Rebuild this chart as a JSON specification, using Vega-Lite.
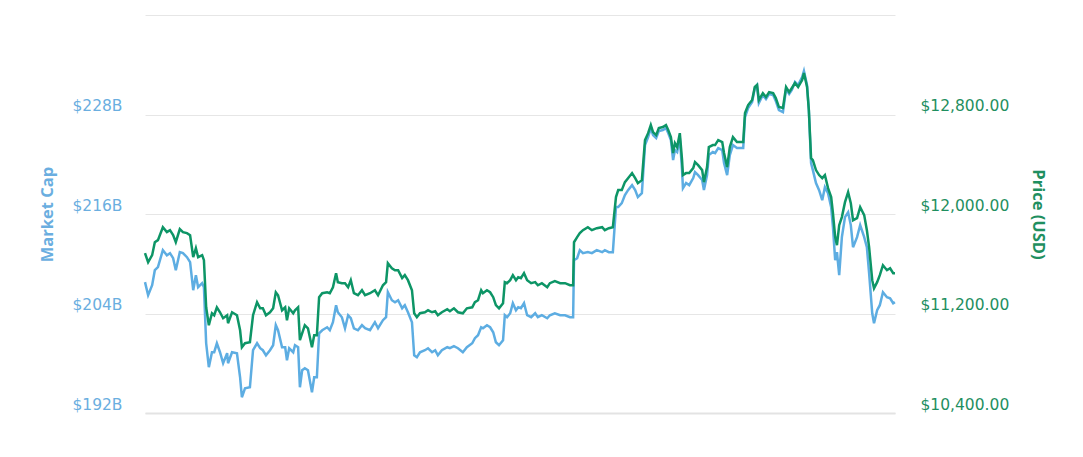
{
"$schema": "https://vega.github.io/schema/vega-lite/v6.json",
"width": 750,
"height": 398,
"autosize": {"type": "none"},
"padding": {"left": 145, "top": 15, "right": 188, "bottom": 44},
"config": {"view": {"stroke": null}, "font": "Open Sans"},
"data": {"values": [
{"h":0,"p":11685,"m":207.78},{"h":0.7,"p":11612,"m":206.21},{"h":1.6,"p":11669,"m":207.41},{"h":2.2,"p":11773,"m":209.22},{"h":2.9,"p":11790,"m":209.59},
{"h":4.0,"p":11894,"m":211.64},{"h":4.9,"p":11854,"m":211.03},{"h":5.6,"p":11870,"m":211.28},{"h":6.3,"p":11830,"m":210.67},{"h":6.9,"p":11773,"m":209.22},
{"h":7.8,"p":11878,"m":211.40},{"h":8.5,"p":11854,"m":211.28},{"h":9.4,"p":11846,"m":210.79},{"h":10.1,"p":11830,"m":210.19},{"h":10.8,"p":11653,"m":206.81},
{"h":11.4,"p":11725,"m":208.62},{"h":11.9,"p":11653,"m":207.17},{"h":12.8,"p":11669,"m":207.65},{"h":13.2,"p":11629,"m":207.17},{"h":13.7,"p":11250,"m":200.41},
{"h":14.3,"p":11106,"m":197.52},{"h":15.0,"p":11202,"m":199.33},{"h":15.5,"p":11186,"m":199.33},{"h":16.1,"p":11250,"m":200.41},{"h":16.8,"p":11210,"m":199.33},
{"h":17.5,"p":11162,"m":198.00},{"h":18.4,"p":11186,"m":199.21},{"h":18.6,"p":11122,"m":198.00},{"h":19.5,"p":11210,"m":199.33},{"h":20.6,"p":11186,"m":199.21},
{"h":21.3,"p":11065,"m":196.31},{"h":21.7,"p":10929,"m":193.90},{"h":22.4,"p":10961,"m":194.98},{"h":23.5,"p":10969,"m":195.10},{"h":24.2,"p":11186,"m":199.57},
{"h":25.1,"p":11291,"m":200.41},{"h":25.8,"p":11242,"m":199.81},{"h":26.4,"p":11242,"m":199.57},{"h":27.1,"p":11186,"m":198.96},{"h":28.0,"p":11210,"m":199.57},
{"h":28.7,"p":11242,"m":200.17},{"h":29.3,"p":11371,"m":202.59},{"h":29.8,"p":11347,"m":201.98},{"h":30.7,"p":11226,"m":199.93},{"h":31.4,"p":11250,"m":199.93},
{"h":31.8,"p":11146,"m":198.36},{"h":32.3,"p":11242,"m":199.81},{"h":33.2,"p":11202,"m":199.33},{"h":33.6,"p":11226,"m":200.17},{"h":34.3,"p":11250,"m":199.93},
{"h":34.7,"p":10985,"m":195.10},{"h":35.2,"p":11041,"m":197.15},{"h":35.8,"p":11106,"m":197.40},{"h":36.5,"p":11081,"m":197.15},{"h":37.4,"p":10929,"m":194.50},
{"h":37.9,"p":11025,"m":196.31},{"h":38.5,"p":11025,"m":196.31},{"h":39.0,"p":11331,"m":201.62},{"h":39.7,"p":11363,"m":201.98},{"h":40.8,"p":11371,"m":202.34},
{"h":41.4,"p":11363,"m":201.98},{"h":42.1,"p":11411,"m":202.95},{"h":42.8,"p":11524,"m":205.00},{"h":43.2,"p":11452,"m":204.15},{"h":44.1,"p":11444,"m":203.55},
{"h":44.8,"p":11444,"m":202.22},{"h":45.5,"p":11411,"m":203.79},{"h":46.1,"p":11468,"m":203.43},{"h":46.8,"p":11363,"m":202.22},{"h":47.7,"p":11347,"m":201.98},
{"h":48.6,"p":11387,"m":202.59},{"h":49.3,"p":11347,"m":202.22},{"h":50.4,"p":11363,"m":201.98},{"h":51.5,"p":11387,"m":202.95},{"h":52.2,"p":11347,"m":202.22},
{"h":53.3,"p":11427,"m":203.19},{"h":54.0,"p":11452,"m":203.55},{"h":54.4,"p":11604,"m":206.57},{"h":55.3,"p":11564,"m":205.60},{"h":56.0,"p":11548,"m":205.36},
{"h":56.7,"p":11548,"m":205.60},{"h":57.6,"p":11484,"m":204.64},{"h":58.2,"p":11508,"m":205.00},{"h":58.9,"p":11468,"m":204.15},{"h":59.8,"p":11387,"m":202.95},
{"h":60.3,"p":11202,"m":198.96},{"h":60.9,"p":11170,"m":198.72},{"h":61.6,"p":11202,"m":199.33},{"h":62.7,"p":11210,"m":199.57},{"h":63.4,"p":11226,"m":199.81},
{"h":64.3,"p":11210,"m":199.33},{"h":65.0,"p":11218,"m":199.57},{"h":65.6,"p":11186,"m":198.96},{"h":66.5,"p":11210,"m":199.57},{"h":67.7,"p":11234,"m":199.93},
{"h":68.3,"p":11218,"m":199.81},{"h":69.2,"p":11242,"m":200.05},{"h":70.1,"p":11210,"m":199.81},{"h":71.2,"p":11202,"m":199.33},{"h":72.1,"p":11242,"m":199.93},
{"h":73.3,"p":11250,"m":200.41},{"h":73.9,"p":11291,"m":201.02},{"h":74.6,"p":11307,"m":201.38},{"h":75.3,"p":11387,"m":202.34},{"h":75.7,"p":11363,"m":202.22},
{"h":76.6,"p":11387,"m":202.59},{"h":77.3,"p":11371,"m":202.34},{"h":78.0,"p":11331,"m":201.74},{"h":78.6,"p":11267,"m":200.53},{"h":79.3,"p":11242,"m":200.17},
{"h":80.2,"p":11283,"m":200.77},{"h":80.6,"p":11452,"m":203.79},{"h":81.1,"p":11444,"m":203.55},{"h":81.8,"p":11468,"m":204.03},{"h":82.4,"p":11508,"m":205.24},
{"h":83.1,"p":11468,"m":204.40},{"h":83.6,"p":11492,"m":204.76},{"h":84.2,"p":11484,"m":204.64},{"h":84.9,"p":11524,"m":205.24},{"h":85.6,"p":11468,"m":203.79},
{"h":86.5,"p":11444,"m":203.55},{"h":87.4,"p":11452,"m":204.03},{"h":88.0,"p":11427,"m":203.55},{"h":88.9,"p":11444,"m":203.79},{"h":90.1,"p":11411,"m":203.43},
{"h":90.7,"p":11444,"m":203.79},{"h":91.8,"p":11460,"m":204.03},{"h":93.0,"p":11444,"m":203.79},{"h":94.1,"p":11444,"m":203.79},{"h":95.2,"p":11427,"m":203.55},
{"h":95.9,"p":11427,"m":203.55},{"h":96.1,"p":11773,"m":210.43},{"h":96.8,"p":11814,"m":210.67},{"h":97.4,"p":11846,"m":211.64},{"h":98.1,"p":11870,"m":211.28},
{"h":99.2,"p":11894,"m":211.40},{"h":100.1,"p":11870,"m":211.28},{"h":101.2,"p":11886,"m":211.64},{"h":102.4,"p":11894,"m":211.40},{"h":103.0,"p":11870,"m":211.64},
{"h":103.9,"p":11886,"m":211.40},{"h":104.8,"p":11894,"m":211.40},{"h":105.5,"p":12136,"m":216.83},{"h":106.0,"p":12192,"m":216.83},{"h":106.8,"p":12192,"m":217.31},
{"h":107.5,"p":12256,"m":218.28},{"h":108.2,"p":12288,"m":218.88},{"h":109.1,"p":12329,"m":219.48},{"h":109.8,"p":12288,"m":218.88},{"h":110.4,"p":12248,"m":218.04},
{"h":111.3,"p":12272,"m":218.52},{"h":112.0,"p":12594,"m":224.31},{"h":112.7,"p":12650,"m":225.28},{"h":113.3,"p":12715,"m":226.36},{"h":113.8,"p":12658,"m":225.52},
{"h":114.5,"p":12634,"m":225.16},{"h":115.1,"p":12691,"m":226.00},{"h":116.0,"p":12699,"m":226.12},{"h":116.7,"p":12715,"m":226.36},{"h":117.2,"p":12675,"m":225.76},
{"h":117.8,"p":12618,"m":224.92},{"h":118.3,"p":12490,"m":222.50},{"h":118.7,"p":12570,"m":223.71},{"h":119.2,"p":12538,"m":223.47},{"h":119.8,"p":12650,"m":225.16},
{"h":120.3,"p":12433,"m":221.29},{"h":120.5,"p":12313,"m":219.12},{"h":121.2,"p":12329,"m":219.73},{"h":121.9,"p":12329,"m":219.48},{"h":122.8,"p":12369,"m":220.33},
{"h":123.2,"p":12417,"m":221.05},{"h":123.9,"p":12393,"m":220.69},{"h":124.8,"p":12353,"m":220.09},{"h":125.2,"p":12256,"m":218.88},{"h":125.9,"p":12377,"m":220.69},
{"h":126.3,"p":12538,"m":223.10},{"h":127.2,"p":12554,"m":223.47},{"h":127.7,"p":12554,"m":223.35},{"h":128.4,"p":12594,"m":223.95},{"h":129.3,"p":12578,"m":223.71},
{"h":129.7,"p":12490,"m":222.14},{"h":130.4,"p":12377,"m":220.69},{"h":131.0,"p":12538,"m":223.10},{"h":131.7,"p":12618,"m":224.31},{"h":132.6,"p":12578,"m":223.95},
{"h":133.3,"p":12578,"m":223.95},{"h":134.0,"p":12578,"m":223.95},{"h":134.4,"p":12811,"m":227.69},{"h":135.1,"p":12876,"m":228.78},{"h":136.0,"p":12916,"m":229.50},
{"h":136.6,"p":13021,"m":231.19},{"h":137.1,"p":13037,"m":231.55},{"h":137.5,"p":12916,"m":229.38},{"h":138.4,"p":12972,"m":230.35},{"h":139.1,"p":12940,"m":229.86},
{"h":139.8,"p":12980,"m":230.47},{"h":140.7,"p":12972,"m":230.35},{"h":141.3,"p":12932,"m":229.62},{"h":142.0,"p":12860,"m":228.54},{"h":142.9,"p":12852,"m":228.29},
{"h":143.6,"p":13021,"m":231.07},{"h":144.3,"p":12980,"m":230.47},{"h":144.9,"p":13013,"m":230.95},{"h":145.6,"p":13053,"m":231.92},{"h":146.3,"p":13021,"m":231.55},
{"h":147.2,"p":13077,"m":232.52},{"h":147.6,"p":13133,"m":233.24},{"h":148.3,"p":13021,"m":231.55},{"h":148.7,"p":12836,"m":228.54},{"h":149.2,"p":12449,"m":222.14},
{"h":149.6,"p":12433,"m":221.29},{"h":150.3,"p":12353,"m":219.73},{"h":151.0,"p":12313,"m":218.88},{"h":151.7,"p":12288,"m":217.67},{"h":152.3,"p":12313,"m":219.24},
{"h":153.0,"p":12208,"m":218.52},{"h":153.7,"p":12136,"m":216.83},{"h":154.1,"p":12007,"m":214.41},{"h":154.6,"p":11814,"m":210.43},{"h":155.0,"p":11749,"m":211.40},
{"h":155.5,"p":11910,"m":208.62},{"h":156.1,"p":11975,"m":213.21},{"h":156.8,"p":12095,"m":215.62},{"h":157.5,"p":12176,"m":216.22},{"h":158.1,"p":12087,"m":214.66},
{"h":158.6,"p":11950,"m":212.00},{"h":159.5,"p":11967,"m":213.21},{"h":160.2,"p":12055,"m":214.66},{"h":161.1,"p":11991,"m":213.21},{"h":161.7,"p":11870,"m":212.00},
{"h":162.2,"p":11733,"m":208.86},{"h":162.9,"p":11468,"m":204.03},{"h":163.3,"p":11403,"m":202.83},{"h":164.0,"p":11452,"m":204.40},{"h":164.6,"p":11508,"m":205.00},
{"h":165.3,"p":11588,"m":206.57},{"h":166.2,"p":11548,"m":205.97},{"h":166.9,"p":11564,"m":205.84},{"h":167.6,"p":11524,"m":205.24},{"h":168.0,"p":11524,"m":205.36}
]},
"encoding": {
  "x": {"field": "h", "type": "quantitative", "scale": {"domain": [0, 168], "nice": false, "zero": false},
        "axis": {"labels": false, "ticks": false, "grid": false, "title": null, "domainColor": "#e3e3e3", "domainWidth": 2}}
},
"layer": [
  {"mark": {"type": "line", "color": "#5dade2", "strokeWidth": 2.5, "interpolate": "linear"},
   "encoding": {"y": {"field": "m", "type": "quantitative", "title": "Market Cap",
     "scale": {"domain": [192, 240], "nice": false, "zero": false},
     "axis": {"orient": "left", "values": [192, 204, 216, 228, 240], "domain": false, "ticks": false,
       "grid": true, "gridColor": "#e6e6e6", "gridWidth": 1,
       "labelExpr": "datum.value >= 240 ? '' : '$' + datum.value + 'B'",
       "labelFont": "DejaVu Sans", "labelColor": "#6aaee0", "labelFontSize": 15.5, "labelPadding": 23, "labelBaseline": "middle", "labelOffset": -9,
       "titleColor": "#6aaee0", "titleFontSize": 16.5, "titleFontWeight": "bold",
       "titleX": -98, "titleY": 199, "titleAngle": -90, "titleAlign": "center", "titleBaseline": "middle"}}}},
  {"mark": {"type": "line", "color": "#0d9566", "strokeWidth": 2.5, "interpolate": "linear"},
   "encoding": {"y": {"field": "p", "type": "quantitative", "title": "Price (USD)",
     "scale": {"domain": [10400, 13600], "nice": false, "zero": false},
     "axis": {"orient": "right", "values": [10400, 11200, 12000, 12800], "domain": false, "ticks": false, "grid": false,
       "labelExpr": "'$' + format(datum.value, ',.2f')",
       "labelFont": "DejaVu Sans", "labelColor": "#1f8f5f", "labelFontSize": 15.5, "labelPadding": 25, "labelBaseline": "middle", "labelOffset": -9,
       "titleColor": "#1f8f5f", "titleFontSize": 16.5, "titleFontWeight": "bold",
       "titleX": 142, "titleY": 199, "titleAngle": 90, "titleAlign": "center", "titleBaseline": "middle"}}}}
],
"resolve": {"scale": {"y": "independent"}}
}
